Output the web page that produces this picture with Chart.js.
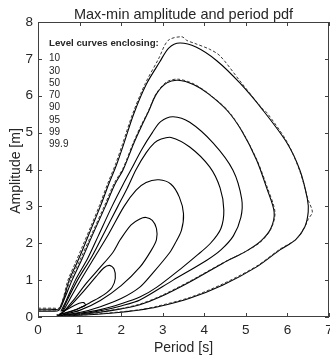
<!DOCTYPE html>
<html lang="en">
<head>
  <meta charset="UTF-8">
  <title>Max-min amplitude and period pdf</title>
  <script src="https://cdn.jsdelivr.net/npm/chart.js"></script>
  <style>
    html, body { margin: 0; padding: 0; background: #fff; }
    canvas { display: block; }
  </style>
</head>
<body>
  <canvas id="pdfChart" width="330" height="358"></canvas>

  <script>
    // level curve labels (percent of probability enclosed)
    const levels = ['10', '30', '50', '70', '90', '95', '99', '99.9'];
    const xTicks = [0, 1, 2, 3, 4, 5, 6, 7];
    const yTicks = [0, 1, 2, 3, 4, 5, 6, 7, 8];

    // period [s] / amplitude [m] along each contour (solid = estimated)
    const per10 = [0.5, 0.55, 0.75, 0.99, 1.1, 1.14, 1.03, 0.8, 0.55, 0.5];
    const amp10 = [0.06, 0.1, 0.24, 0.37, 0.39, 0.32, 0.26, 0.15, 0.07, 0.06];

    const per30 = [0.55, 0.8, 1.1, 1.4, 1.58, 1.72, 1.83, 1.86, 1.78, 1.58, 1.3, 0.95, 0.55];
    const amp30 = [0.08, 0.33, 0.7, 1.1, 1.33, 1.4, 1.3, 1.05, 0.8, 0.6, 0.42, 0.22, 0.08];

    const per50 = [0.62, 0.85, 1.15, 1.5, 1.8, 1.98, 2.24, 2.45, 2.6, 2.75, 2.85, 2.85, 2.72, 2.45, 2.0, 1.5, 1.0, 0.62];
    const amp50 = [0.15, 0.45, 0.9, 1.35, 1.75, 2.1, 2.5, 2.66, 2.7, 2.62, 2.4, 2.1, 1.8, 1.35, 0.85, 0.45, 0.18, 0.07];

    const per70 = [0.6, 0.75, 1.0, 1.35, 1.7, 2.07, 2.36, 2.6, 2.91, 3.2, 3.4, 3.5, 3.45, 3.3, 3.17, 2.76, 2.45, 2.0, 1.5, 1.0, 0.6];
    const amp70 = [0.15, 0.45, 0.95, 1.6, 2.25, 3.0, 3.44, 3.65, 3.72, 3.6, 3.25, 2.8, 2.35, 2.0, 1.75, 1.19, 0.81, 0.5, 0.28, 0.12, 0.06];

    const per90 = [0.58, 0.7, 0.95, 1.3, 1.6, 1.92, 2.15, 2.36, 2.6, 2.8, 2.95, 3.2, 3.65, 4.13, 4.38, 4.47, 4.4, 4.15, 3.8, 3.49, 2.86, 2.45, 2.0, 1.5, 1.0, 0.58];
    const amp90 = [0.15, 0.45, 1.0, 1.65, 2.3, 3.0, 3.5, 4.0, 4.45, 4.72, 4.82, 4.87, 4.61, 4.07, 3.5, 2.9, 2.4, 2.0, 1.65, 1.36, 0.81, 0.54, 0.36, 0.2, 0.1, 0.05];

    const per95 = [0.55, 0.68, 0.9, 1.2, 1.45, 1.78, 2.05, 2.24, 2.5, 2.75, 2.95, 3.25, 3.65, 4.21, 4.69, 4.9, 4.88, 4.7, 4.4, 4.06, 3.25, 2.45, 2.0, 1.5, 1.0, 0.55];
    const amp95 = [0.15, 0.45, 1.0, 1.6, 2.2, 3.0, 3.6, 4.0, 4.55, 5.0, 5.3, 5.43, 5.28, 4.72, 3.98, 3.2, 2.7, 2.2, 1.82, 1.54, 1.0, 0.46, 0.3, 0.17, 0.08, 0.04];

    const per99 = [0, 0.3, 0.5, 0.62, 0.82, 1.05, 1.3, 1.62, 1.85, 2.05, 2.3, 2.5, 2.65, 2.85, 3.1, 3.37, 3.75, 4.1, 4.55, 4.9, 5.26, 5.5, 5.68, 5.6, 5.35, 5.0, 4.45, 3.65, 2.93, 2.45, 2.0, 1.5, 1.0, 0.6, 0.45];
    const amp99 = [0.16, 0.16, 0.18, 0.45, 1.0, 1.55, 2.2, 3.0, 3.6, 4.0, 4.7, 5.2, 5.55, 6.05, 6.35, 6.42, 6.3, 6.05, 5.6, 5.05, 4.25, 3.5, 2.85, 2.4, 2.05, 1.78, 1.46, 0.95, 0.54, 0.33, 0.22, 0.13, 0.07, 0.04, 0.06];

    const per999 = [0, 0.3, 0.5, 0.62, 0.75, 0.93, 1.1, 1.3, 1.5, 1.7, 1.88, 2.05, 2.3, 2.6, 2.93, 3.15, 3.41, 3.8, 4.3, 4.86, 5.41, 5.99, 6.3, 6.48, 6.5, 6.42, 6.2, 5.82, 5.26, 4.45, 3.65, 2.86, 2.45, 2.0, 1.5, 1.0, 0.6, 0.45];
    const amp999 = [0.21, 0.21, 0.22, 0.5, 1.0, 1.45, 1.9, 2.45, 3.0, 3.6, 4.1, 4.65, 5.5, 6.3, 6.92, 7.3, 7.43, 7.32, 6.95, 6.34, 5.61, 4.72, 3.98, 3.2, 2.85, 2.45, 2.1, 1.82, 1.36, 0.87, 0.51, 0.27, 0.19, 0.13, 0.08, 0.05, 0.03, 0.05];

    // dashed (theoretical) outer contours, where they part from the solid ones
    const per999d = [0, 0.35, 0.52, 0.6, 0.72, 0.9, 1.07, 1.28, 1.48, 1.68, 1.86, 2.03, 2.28, 2.58, 2.9, 3.13, 3.46, 3.58, 3.77, 4.13, 4.38, 4.86, 5.41, 5.5, 5.99, 6.3, 6.5, 6.6, 6.5, 6.42, 6.2, 5.82, 5.26, 4.45, 3.65, 2.86, 2.45, 2.0, 1.5, 1.0, 0.6];
    const amp999d = [0.24, 0.24, 0.25, 0.48, 1.0, 1.47, 1.92, 2.48, 3.03, 3.63, 4.13, 4.68, 5.52, 6.33, 7.0, 7.5, 7.6, 7.5, 7.42, 7.26, 7.08, 6.4, 5.63, 5.55, 4.75, 3.95, 3.17, 2.85, 2.65, 2.45, 2.1, 1.84, 1.38, 0.9, 0.53, 0.29, 0.2, 0.14, 0.09, 0.05, 0.03];

    const per99d = [0, 0.32, 0.5, 0.58, 0.79, 1.02, 1.28, 1.6, 1.83, 2.04, 2.29, 2.49, 2.64, 2.85, 3.1, 3.37, 3.75, 4.1, 4.55, 4.9, 5.27, 5.52, 5.7, 5.61, 5.35, 5.0, 4.45, 3.65, 2.93, 2.45, 2.0, 1.5, 1.0, 0.6];
    const amp99d = [0.19, 0.19, 0.2, 0.42, 1.02, 1.57, 2.22, 3.02, 3.62, 4.02, 4.72, 5.22, 5.55, 6.07, 6.38, 6.45, 6.32, 6.06, 5.62, 5.06, 4.25, 3.5, 2.85, 2.4, 2.03, 1.78, 1.47, 0.97, 0.56, 0.35, 0.23, 0.14, 0.07, 0.04];

    const pts = (per, amp) => per.map((x, i) => ({ x: x, y: amp[i] }));

    const solid = [[per10, amp10], [per30, amp30], [per50, amp50], [per70, amp70],
                   [per90, amp90], [per95, amp95], [per99, amp99], [per999, amp999]];
    const dashed = [[per99d, amp99d], [per999d, amp999d]];

    const datasets = [];
    dashed.forEach(([p, a]) => datasets.push({
      data: pts(p, a), showLine: true, borderColor: '#222', borderWidth: 0.9,
      borderDash: [3, 2], pointRadius: 0, tension: 0.3, fill: false
    }));
    solid.forEach(([p, a], i) => datasets.push({
      label: levels[i], data: pts(p, a), showLine: true, borderColor: '#000',
      borderWidth: 1.1, pointRadius: 0, tension: 0.3, fill: false
    }));

    const FONT = '"Liberation Sans", Arial, sans-serif';

    // axes box with inward ticks, titles and the level list
    const decorations = {
      id: 'decorations',
      afterDraw(chart) {
        const { ctx, chartArea: a, scales: { x, y } } = chart;
        ctx.save();
        ctx.strokeStyle = '#404040';
        ctx.lineWidth = 1;
        ctx.strokeRect(a.left + 0.5, a.top + 0.5, a.right - a.left - 1, a.bottom - a.top - 1);
        ctx.beginPath();
        xTicks.forEach(v => {
          const px = Math.round(x.getPixelForValue(v)) + 0.5;
          ctx.moveTo(px, a.bottom); ctx.lineTo(px, a.bottom - 4);
          ctx.moveTo(px, a.top); ctx.lineTo(px, a.top + 4);
        });
        yTicks.forEach(v => {
          const py = Math.round(y.getPixelForValue(v)) + 0.5;
          ctx.moveTo(a.left, py); ctx.lineTo(a.left + 4, py);
          ctx.moveTo(a.right, py); ctx.lineTo(a.right - 4, py);
        });
        ctx.stroke();

        ctx.fillStyle = '#262626';
        ctx.textAlign = 'center';
        ctx.textBaseline = 'alphabetic';
        ctx.font = '14.5px ' + FONT;
        ctx.fillText('Max-min amplitude and period pdf', (a.left + a.right) / 2, 19);
        ctx.font = '14px ' + FONT;
        ctx.fillText('Period [s]', (a.left + a.right) / 2, 352);
        ctx.save();
        ctx.translate(20, 171);
        ctx.rotate(-Math.PI / 2);
        ctx.fillText('Amplitude [m]', 0, 0);
        ctx.restore();

        ctx.textAlign = 'left';
        ctx.textBaseline = 'middle';
        ctx.font = 'bold 9.7px ' + FONT;
        ctx.fillText('Level curves enclosing:', 49, 43.5);
        ctx.font = '10px ' + FONT;
        levels.forEach((l, i) => ctx.fillText(l, 49, 58.5 + i * 12.3));
        ctx.restore();
      }
    };

    new Chart(document.getElementById('pdfChart'), {
      type: 'scatter',
      data: { datasets: datasets },
      options: {
        responsive: false,
        animation: false,
        events: [],
        layout: { padding: { top: 22, right: 1, left: 0, bottom: 0 } },
        plugins: { legend: { display: false }, tooltip: { enabled: false } },
        scales: {
          x: {
            min: 0, max: 7,
            grid: { display: false, drawTicks: false },
            border: { display: false },
            ticks: { stepSize: 1, padding: 5, color: '#262626', font: { family: FONT, size: 13.5 } },
            afterFit(s) { s.height = 41; s.paddingLeft = 0; s.paddingRight = 0; }
          },
          y: {
            min: 0, max: 8,
            grid: { display: false, drawTicks: false },
            border: { display: false },
            ticks: { stepSize: 1, padding: 5, color: '#262626', font: { family: FONT, size: 13.5 } },
            afterFit(s) { s.width = 38; s.paddingTop = 0; s.paddingBottom = 0; }
          }
        }
      },
      plugins: [decorations]
    });
  </script>
</body>
</html>
